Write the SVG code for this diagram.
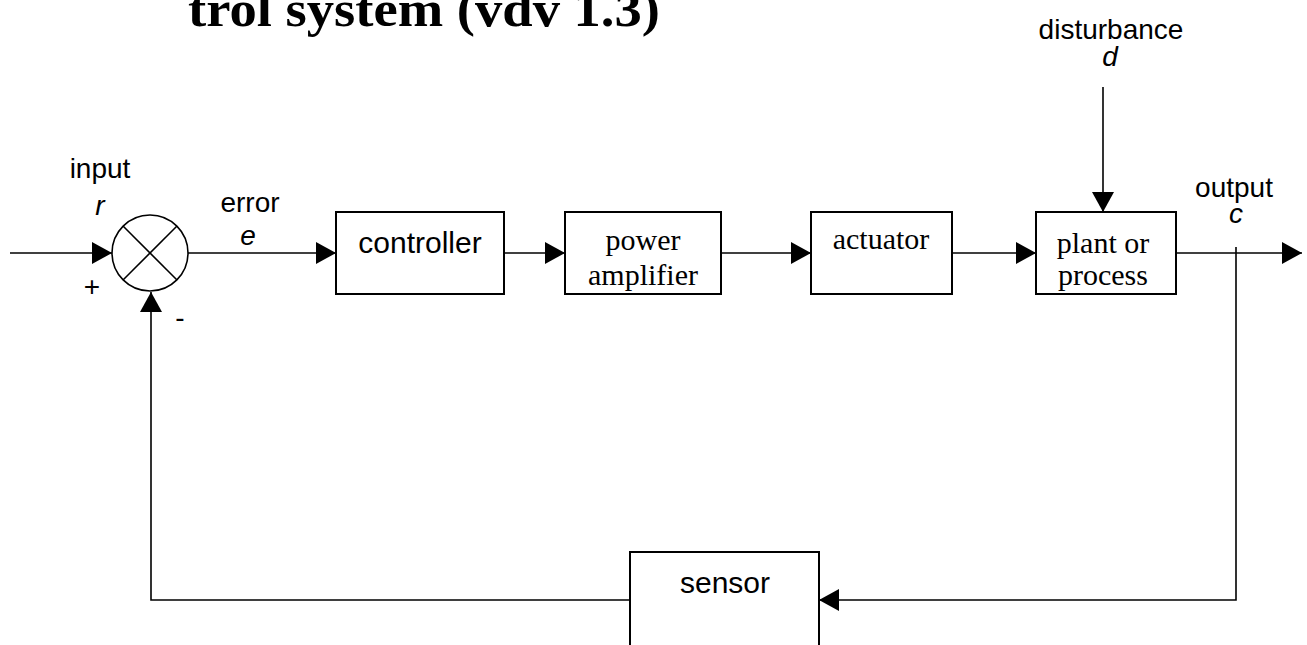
<svg xmlns="http://www.w3.org/2000/svg" width="1307" height="645" viewBox="0 0 1307 645">
<style>
.box{fill:#fff;stroke:#000;stroke-width:2}
.ln{fill:none;stroke:#000;stroke-width:1.6}
.sans{font-family:"Liberation Sans",Arial,sans-serif;font-size:28px;fill:#000;text-anchor:middle}
.it{font-style:italic}
.serif{font-family:"Liberation Serif","Times New Roman",serif;font-size:30px;fill:#000;text-anchor:middle}
.title{font-family:"Liberation Serif","Times New Roman",serif;font-size:50px;font-weight:bold;fill:#000}
</style>
<defs>
<marker id="ah" viewBox="0 0 20 22" refX="20" refY="11" markerWidth="20" markerHeight="22" markerUnits="userSpaceOnUse" orient="auto">
<path d="M0,0 L20,11 L0,22 Z" fill="#000"/>
</marker>
</defs>
<rect width="1307" height="645" fill="#fff"/>
<text class="title" x="188" y="26" textLength="472" lengthAdjust="spacingAndGlyphs">trol system (vdv 1.3)</text>

<g id="connectors">
<line class="ln" x1="10" y1="253" x2="112" y2="253" marker-end="url(#ah)"/>
<line class="ln" x1="188" y1="253" x2="336" y2="253" marker-end="url(#ah)"/>
<line class="ln" x1="504" y1="253" x2="565" y2="253" marker-end="url(#ah)"/>
<line class="ln" x1="721" y1="253" x2="811" y2="253" marker-end="url(#ah)"/>
<line class="ln" x1="952" y1="253" x2="1036" y2="253" marker-end="url(#ah)"/>
<line class="ln" x1="1176" y1="253" x2="1302" y2="253" marker-end="url(#ah)"/>
<line class="ln" x1="1103" y1="87" x2="1103" y2="212" marker-end="url(#ah)"/>
<polyline class="ln" points="1236,247 1236,600 819,600" marker-end="url(#ah)"/>
<polyline class="ln" points="630,600 151,600 151,292" marker-end="url(#ah)"/>
</g>

<g id="sum">
<circle cx="150" cy="253" r="38" fill="#fff" stroke="#000" stroke-width="1.6"/>
<line class="ln" x1="123" y1="226" x2="177" y2="280"/>
<line class="ln" x1="177" y1="226" x2="123" y2="280"/>
</g>

<g id="controller">
<rect class="box" x="336" y="212" width="168" height="82"/>
<text class="sans" x="420" y="253" style="font-size:30px">controller</text>
</g>
<g id="power-amplifier">
<rect class="box" x="565" y="212" width="156" height="82"/>
<text class="serif" x="643" y="250">power</text>
<text class="serif" x="643" y="285">amplifier</text>
</g>
<g id="actuator">
<rect class="box" x="811" y="212" width="141" height="82"/>
<text class="serif" x="881" y="249">actuator</text>
</g>
<g id="plant">
<rect class="box" x="1036" y="212" width="140" height="82"/>
<text class="serif" x="1103" y="253">plant or</text>
<text class="serif" x="1103" y="285">process</text>
</g>
<g id="sensor">
<rect class="box" x="630" y="552" width="189" height="110"/>
<text class="sans" x="725" y="593" style="font-size:30px">sensor</text>
</g>

<g id="labels">
<text class="sans" x="100" y="178">input</text>
<text class="sans it" x="100" y="215">r</text>
<text class="sans" x="92" y="296">+</text>
<text class="sans" x="180" y="327">-</text>
<text class="sans" x="250" y="212">error</text>
<text class="sans it" x="248" y="245">e</text>
<text class="sans" x="1111" y="39">disturbance</text>
<text class="sans it" x="1110" y="66">d</text>
<text class="sans" x="1234" y="197">output</text>
<text class="sans it" x="1236" y="223">c</text>
</g>
</svg>
